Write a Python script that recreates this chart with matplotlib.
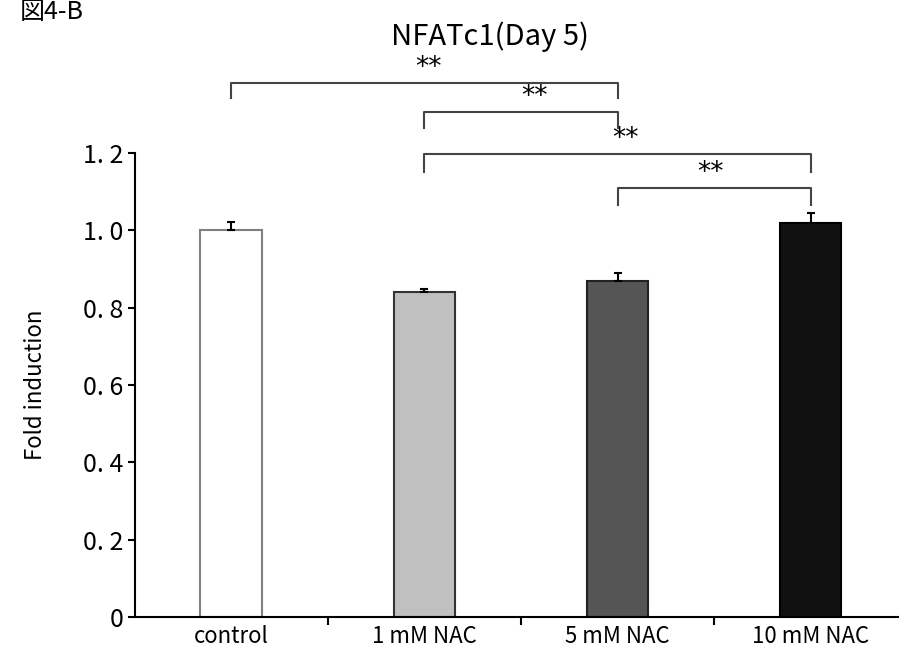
import matplotlib.pyplot as plt

plt.rcParams['font.family'] = ['Noto Sans CJK JP', 'DejaVu Sans']

groups = ['control', '1 mM NAC', '5 mM NAC', '10 mM NAC']
fold = [1.00, 0.842, 0.870, 1.020]
sem = [0.022, 0.006, 0.020, 0.025]
bar_colors = ['#ffffff', '#c0c0c0', '#555555', '#111111']
edge_colors = ['#808080', '#333333', '#222222', '#000000']

# significance brackets: (left group, right group, bracket top, leg bottom, star x)
brackets = [(0, 2, 1.381, 1.342, 1.52),
            (1, 2, 1.306, 1.265, 2.07),
            (1, 3, 1.197, 1.151, 2.54),
            (2, 3, 1.109, 1.065, 2.98)]
sig_label = '**'

fig = plt.figure(figsize=(8.99, 6.6), dpi=100)
ax = fig.add_axes([0.150, 0.065, 0.859, 0.703])

x = [i + 0.5 for i in range(len(groups))]
ax.bar(x, fold, width=0.32, color=bar_colors, edgecolor=edge_colors, linewidth=1.5, zorder=2)
ax.errorbar(x, fold, yerr=[[0] * len(sem), sem], fmt='none', ecolor='black',
            elinewidth=1.5, capsize=3, capthick=1.5, zorder=3)

ax.set_xlim(0, 4)
ax.set_ylim(0, 1.2)
ax.spines['top'].set_visible(False)
ax.spines['right'].set_visible(False)
ax.spines['left'].set_linewidth(1.5)
ax.spines['bottom'].set_linewidth(1.5)

ax.set_xticks([1, 2, 3, 4])
ax.set_xticklabels([])
ax.set_xticks(x, minor=True)
ax.set_xticklabels(groups, minor=True, fontsize=16)
ax.tick_params(axis='x', which='minor', length=0, pad=6)
ax.tick_params(axis='x', which='major', length=6, width=1.5, direction='out')

ax.set_yticks([0, 0.2, 0.4, 0.6, 0.8, 1.0, 1.2])
ax.set_yticklabels(['0', '0. 2', '0. 4', '0. 6', '0. 8', '1. 0', '1. 2'], fontsize=18)
ax.tick_params(axis='y', length=5, width=1.5, direction='out', pad=3)
ax.set_ylabel('Fold induction', fontsize=16, labelpad=26)

for a, b, top, bottom, sx in brackets:
    xa, xb = x[a], x[b]
    ax.plot([xa, xa, xb, xb], [bottom, top, top, bottom], color='#444444',
            linewidth=1.5, clip_on=False)
    ax.text(sx, top + 0.006, sig_label, ha='center', va='bottom',
            fontsize=19, family='DejaVu Sans', clip_on=False)

fig.text(0.545, 0.945, 'NFATc1(Day 5)', ha='center', va='center', fontsize=21)
fig.text(0.022, 0.982, '図4-B', ha='left', va='center', fontsize=18)

fig.savefig('out.png', dpi=100)
